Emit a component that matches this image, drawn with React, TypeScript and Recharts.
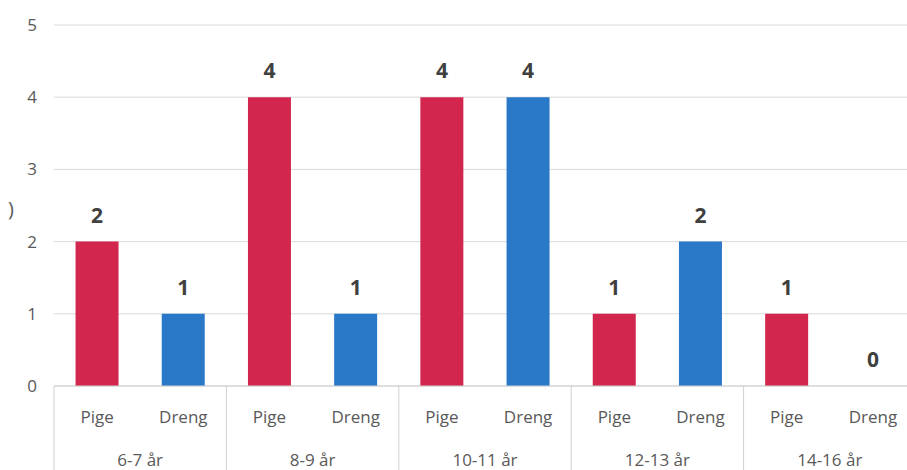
import { ComposedChart, Bar, Line, XAxis, YAxis, CartesianGrid, Cell, LabelList } from "recharts"

const GROUPS = ["6-7 år", "8-9 år", "10-11 år", "12-13 år", "14-16 år"]
const PIGE = [2, 4, 4, 1, 1]
const DRENG = [1, 1, 4, 2, 0]
const Y_TICKS = [0, 1, 2, 3, 4, 5]

const COLORS: Record<string, string> = {
  Pige: "#d2264f",
  Dreng: "#2a78c8",
}

const data = GROUPS.flatMap((g, i) => [
  { key: g + "-Pige", name: "Pige", group: g, value: PIGE[i] },
  { key: g + "-Dreng", name: "Dreng", group: g, value: DRENG[i] },
])

const W = 920
const H = 470
const LEFT = 54
const RIGHT = 4
const SLOT = (W - LEFT - RIGHT) / data.length
const FONT = "'Open Sans', Lato, sans-serif"

function GroupTick(props: any) {
  const { x, y, index } = props
  const d = data[index]
  if (!d) return null
  const isFirst = index % 2 === 0
  return (
    <g>
      <text x={x} y={y + 37} textAnchor="middle" fontSize={17} fill="#595959" fontFamily={FONT}>
        {d.name}
      </text>
      {isFirst && (
        <>
          <line x1={x - SLOT / 2} x2={x - SLOT / 2} y1={y} y2={H} stroke="#d0d0d0" />
          <text x={x + SLOT / 2} y={y + 80} textAnchor="middle" fontSize={17} fill="#595959" fontFamily={FONT}>
            {d.group}
          </text>
        </>
      )}
      {index === data.length - 1 && (
        <line x1={x + SLOT / 2} x2={x + SLOT / 2} y1={y} y2={H} stroke="#d0d0d0" />
      )}
    </g>
  )
}

// labels hang off an invisible line so the zero bar still gets one
function ValueLabel(props: any) {
  const { x, y, value } = props
  return (
    <text
      x={Number(x)}
      y={Number(y) - 19}
      textAnchor="middle"
      fontSize={21}
      fontWeight={700}
      fill="#404040"
      fontFamily={FONT}
    >
      {value}
    </text>
  )
}

export default function App() {
  return (
    <div style={{ position: "absolute", left: 0, top: 0, width: 907, height: 470, overflow: "hidden", background: "#fff" }}>
      <span
        style={{ position: "absolute", left: 8, top: 195, fontSize: 20, color: "#595959", fontFamily: FONT }}
      >
        )
      </span>
      <ComposedChart
        width={W}
        height={H}
        data={data}
        margin={{ top: 25, right: RIGHT, left: 0, bottom: 0 }}
        barCategoryGap="25%"
      >
        <CartesianGrid vertical={false} stroke="#d9d9d9" />
        <XAxis
          dataKey="key"
          interval={0}
          height={84}
          tickLine={false}
          tickSize={0}
          tickMargin={0}
          stroke="#d0d0d0"
          tick={<GroupTick />}
        />
        <YAxis
          width={LEFT}
          domain={[0, 5]}
          ticks={Y_TICKS}
          axisLine={false}
          tickLine={false}
          tickMargin={11}
          tick={{ fontSize: 17, fill: "#595959", fontFamily: FONT }}
        />
        <Bar dataKey="value" isAnimationActive={false}>
          {data.map((d) => (
            <Cell key={d.key} fill={COLORS[d.name]} />
          ))}
        </Bar>
        <Line
          dataKey="value"
          stroke="none"
          dot={false}
          activeDot={false}
          isAnimationActive={false}
        >
          <LabelList dataKey="value" content={<ValueLabel />} />
        </Line>
      </ComposedChart>
    </div>
  )
}
